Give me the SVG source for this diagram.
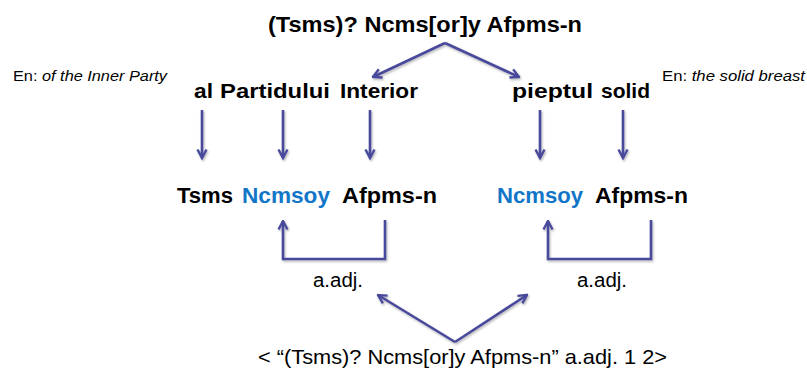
<svg xmlns="http://www.w3.org/2000/svg" width="807" height="373" viewBox="0 0 807 373">
<defs>
<style>
.b{font-family:"Liberation Sans",Arial,sans-serif;font-weight:bold;font-size:22px;fill:#000}
.b2{font-size:21px}
.blue{fill:#1276c8}
.r{font-family:"Liberation Sans",Arial,sans-serif;font-size:20px;fill:#000}
.rb{font-size:21px}
.en{font-family:"Liberation Sans",Arial,sans-serif;font-size:15px;fill:#000}
.it{font-style:italic}
.c{fill:none;stroke:#4a4a9c;stroke-width:2.6;stroke-linejoin:miter}
</style>
<marker id="ah" viewBox="0 0 12 12" refX="10.5" refY="6" markerWidth="12" markerHeight="12" markerUnits="userSpaceOnUse" orient="auto">
<path d="M2,1.5 L10.5,6 L2,10.5" fill="none" stroke="#4a4a9c" stroke-width="2.4" stroke-linejoin="miter"/>
</marker>
<filter id="sh" x="-20%" y="-20%" width="140%" height="140%">
<feDropShadow dx="1" dy="1.5" stdDeviation="1" flood-color="#000" flood-opacity="0.3"/>
</filter>
</defs>
<rect width="807" height="373" fill="#fff"/>

<g id="title">
<text class="b" x="268" y="32" textLength="314" lengthAdjust="spacingAndGlyphs">(Tsms)? Ncms[or]y Afpms-n</text>
</g>

<g id="en-left">
<text class="en" x="13" y="81" textLength="154" lengthAdjust="spacingAndGlyphs">En: <tspan class="it">of the Inner Party</tspan></text>
</g>
<g id="en-right">
<text class="en" x="662" y="81" textLength="143" lengthAdjust="spacingAndGlyphs">En: <tspan class="it">the solid breast</tspan></text>
</g>

<g id="phrase-left">
<text class="b b2" x="194" y="98" textLength="19" lengthAdjust="spacingAndGlyphs">al</text>
<text class="b b2" x="220" y="98" textLength="110" lengthAdjust="spacingAndGlyphs">Partidului</text>
<text class="b b2" x="340" y="98" textLength="78" lengthAdjust="spacingAndGlyphs">Interior</text>
</g>
<g id="phrase-right">
<text class="b b2" x="512" y="98" textLength="81" lengthAdjust="spacingAndGlyphs">pieptul</text>
<text class="b b2" x="601" y="98" textLength="49" lengthAdjust="spacingAndGlyphs">solid</text>
</g>

<g id="tags-left">
<text class="b" x="177" y="203" textLength="56" lengthAdjust="spacingAndGlyphs">Tsms</text>
<text class="b blue" x="242" y="203" textLength="88" lengthAdjust="spacingAndGlyphs">Ncmsoy</text>
<text class="b" x="342" y="203" textLength="95" lengthAdjust="spacingAndGlyphs">Afpms-n</text>
</g>
<g id="tags-right">
<text class="b blue" x="497" y="203" textLength="86" lengthAdjust="spacingAndGlyphs">Ncmsoy</text>
<text class="b" x="595" y="203" textLength="93" lengthAdjust="spacingAndGlyphs">Afpms-n</text>
</g>

<g id="label-left">
<text class="r" x="313" y="287" textLength="50" lengthAdjust="spacingAndGlyphs">a.adj.</text>
</g>
<g id="label-right">
<text class="r" x="577" y="287" textLength="50" lengthAdjust="spacingAndGlyphs">a.adj.</text>
</g>

<g id="rule">
<text class="r rb" x="258" y="364" textLength="409" lengthAdjust="spacingAndGlyphs">&lt; “(Tsms)? Ncms[or]y Afpms-n” a.adj. 1 2&gt;</text>
</g>

<g id="connectors" filter="url(#sh)">
<path class="c" d="M445,43 L373,77" marker-end="url(#ah)"/>
<path class="c" d="M445,43 L519,77" marker-end="url(#ah)"/>
<path class="c" d="M202,110 V158" marker-end="url(#ah)"/>
<path class="c" d="M283,110 V158" marker-end="url(#ah)"/>
<path class="c" d="M370,110 V158" marker-end="url(#ah)"/>
<path class="c" d="M540,110 V158" marker-end="url(#ah)"/>
<path class="c" d="M623,110 V158" marker-end="url(#ah)"/>
<path class="c" d="M385,220 V259 H283 V221" marker-end="url(#ah)"/>
<path class="c" d="M651,220 V259 H548 V221" marker-end="url(#ah)"/>
<path class="c" d="M455,342 L378,295" marker-end="url(#ah)"/>
<path class="c" d="M455,342 L527,295" marker-end="url(#ah)"/>
</g>
</svg>
